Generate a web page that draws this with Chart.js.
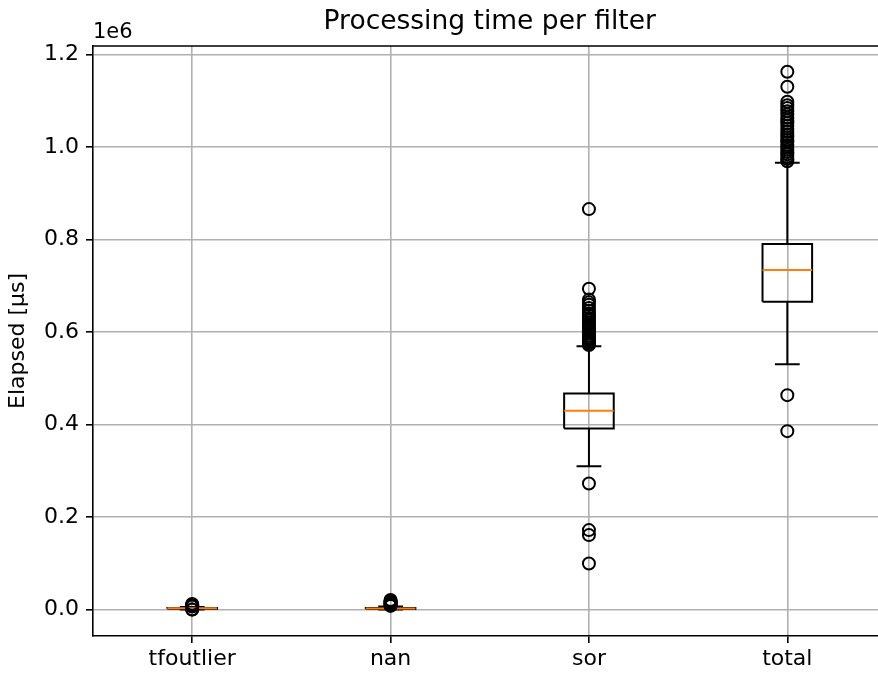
<!DOCTYPE html>
<html lang="en">
<head>
<meta charset="UTF-8">
<title>Processing time per filter</title>
<script src="https://cdn.jsdelivr.net/npm/chart.js@4.4.1/dist/chart.umd.min.js"></script>
<style>
    html, body { margin: 0; padding: 0; background: #fff; overflow: hidden; width: 878px; height: 675px; }
    #wrap { width: 878px; height: 675px; overflow: hidden; }
</style>
</head>
<body>
<div id="wrap"><canvas id="chart" width="900" height="675"></canvas></div>
<script>
// --- data (µs) ---
const categories  = ['tfoutlier', 'nan', 'sor', 'total'];
const q1          = [2000, 1500, 391600, 665200];
const medians     = [2800, 2500, 429600, 733700];
const q3          = [3600, 3500, 467000, 789900];
const whiskerLow  = [500, 0, 310100, 530500];
const whiskerHigh = [5800, 6500, 569400, 965500];
const fliersTfoutlier = [0, 300, 6500, 7500, 8500, 9500, 10500, 12000];
const fliersNan   = [8000, 9500, 11000, 12500, 14000, 15500, 17000, 19000, 21000];
const fliersSor   = [99800, 161000, 171800, 272700,
    572000, 575000, 578000, 582000, 585000, 588000, 592000, 596000, 600000, 604000, 608000, 612000,
    616000, 620000, 625000, 630000, 635000, 640000, 646000, 652000, 659000, 664000, 670000, 693300, 865500];
const fliersTotal = [385700, 463500,
    969000, 974000, 979000, 984000, 989000, 994000, 999000, 1004000, 1010000, 1015000, 1021000, 1027000,
    1033000, 1039000, 1045000, 1051000, 1057000, 1063000, 1070000, 1077000, 1084000, 1090000, 1097400,
    1129800, 1162200];
const fliers = [fliersTfoutlier, fliersNan, fliersSor, fliersTotal];
const yTicks = [0, 200000, 400000, 600000, 800000, 1000000, 1200000];

const FONT = "'DejaVu Sans', 'Liberation Sans', sans-serif";
const LW = 2;
const boxHalf = 0.125;   // box half width in x units
const capHalf = 0.0625;

const datasets = [];
categories.forEach((c, i) => {
    const x = i + 1;
    // box outline
    datasets.push({
        data: [{x: x - boxHalf, y: q1[i]}, {x: x + boxHalf, y: q1[i]}, {x: x + boxHalf, y: q3[i]},
               {x: x - boxHalf, y: q3[i]}, {x: x - boxHalf, y: q1[i]}],
        showLine: true, pointRadius: 0, borderColor: '#000', borderWidth: LW, order: 2
    });
    // whiskers
    datasets.push({
        data: [{x: x, y: q1[i]}, {x: x, y: whiskerLow[i]}],
        showLine: true, pointRadius: 0, borderColor: '#000', borderWidth: LW, order: 3
    });
    datasets.push({
        data: [{x: x, y: q3[i]}, {x: x, y: whiskerHigh[i]}],
        showLine: true, pointRadius: 0, borderColor: '#000', borderWidth: LW, order: 3
    });
    // caps
    datasets.push({
        data: [{x: x - capHalf, y: whiskerLow[i]}, {x: x + capHalf, y: whiskerLow[i]}],
        showLine: true, pointRadius: 0, borderColor: '#000', borderWidth: LW, order: 3
    });
    datasets.push({
        data: [{x: x - capHalf, y: whiskerHigh[i]}, {x: x + capHalf, y: whiskerHigh[i]}],
        showLine: true, pointRadius: 0, borderColor: '#000', borderWidth: LW, order: 3
    });
    // median
    datasets.push({
        data: [{x: x - boxHalf, y: medians[i]}, {x: x + boxHalf, y: medians[i]}],
        showLine: true, pointRadius: 0, borderColor: '#ff7f0e', borderWidth: LW, order: 1
    });
    // outliers
    datasets.push({
        data: fliers[i].map(v => ({x: x, y: v})),
        showLine: false, pointStyle: 'circle', pointRadius: 6,
        backgroundColor: 'rgba(0,0,0,0)', borderColor: '#000', pointBorderWidth: LW, order: 0
    });
});

// top/right spines and the "1e6" offset label
const framePlugin = {
    id: 'frame',
    afterDatasetsDraw(chart) {
        const {ctx, chartArea: a} = chart;
        ctx.save();
        ctx.strokeStyle = '#000';
        ctx.lineWidth = 1.5;
        ctx.beginPath();
        ctx.moveTo(a.left, a.top); ctx.lineTo(a.right, a.top); ctx.lineTo(a.right, a.bottom);
        ctx.stroke();
        ctx.fillStyle = '#000';
        ctx.font = `21px ${FONT}`;
        ctx.textAlign = 'left';
        ctx.textBaseline = 'alphabetic';
        ctx.fillText('1e6', a.left, a.top - 8);
        ctx.restore();
    }
};

new Chart(document.getElementById('chart'), {
    type: 'scatter',
    data: { datasets },
    options: {
        responsive: false,
        animation: false,
        devicePixelRatio: 1,
        layout: { padding: { left: 0, right: 13.5, top: 0, bottom: 0 } },
        plugins: {
            legend: { display: false },
            tooltip: { enabled: false },
            title: {
                display: true, text: 'Processing time per filter', fullSize: false,
                color: '#000', font: { family: FONT, size: 26.5, weight: 'normal' },
                padding: { top: 6, bottom: 8.2 }
            }
        },
        scales: {
            x: {
                type: 'linear', min: 0.5, max: 4.5,
                afterBuildTicks: s => { s.ticks = categories.map((c, i) => ({ value: i + 1 })); },
                afterFit: s => { s.height = 39; },
                ticks: {
                    callback: v => categories[Math.round(v) - 1],
                    autoSkip: false, maxRotation: 0, padding: 3,
                    color: '#000', font: { family: FONT, size: 22 }
                },
                grid: { color: '#b0b0b0', lineWidth: 1.6, tickColor: '#000', tickLength: 7, tickWidth: 1.6 },
                border: { color: '#000', width: 1.6 }
            },
            y: {
                type: 'linear', min: -57000, max: 1218000,
                afterBuildTicks: s => { s.ticks = yTicks.map(v => ({ value: v })); },
                afterFit: s => { s.width = 93; },
                ticks: {
                    callback: v => (v / 1e6).toFixed(1),
                    padding: 7, color: '#000', font: { family: FONT, size: 22 }
                },
                grid: { color: '#b0b0b0', lineWidth: 1.6, tickColor: '#000', tickLength: 7, tickWidth: 1.6 },
                border: { color: '#000', width: 1.6 },
                title: {
                    display: true, text: 'Elapsed [µs]', color: '#000',
                    font: { family: FONT, size: 22 }, padding: { top: 5, bottom: 0 }
                }
            }
        }
    },
    plugins: [framePlugin]
});
</script>
</body>
</html>
